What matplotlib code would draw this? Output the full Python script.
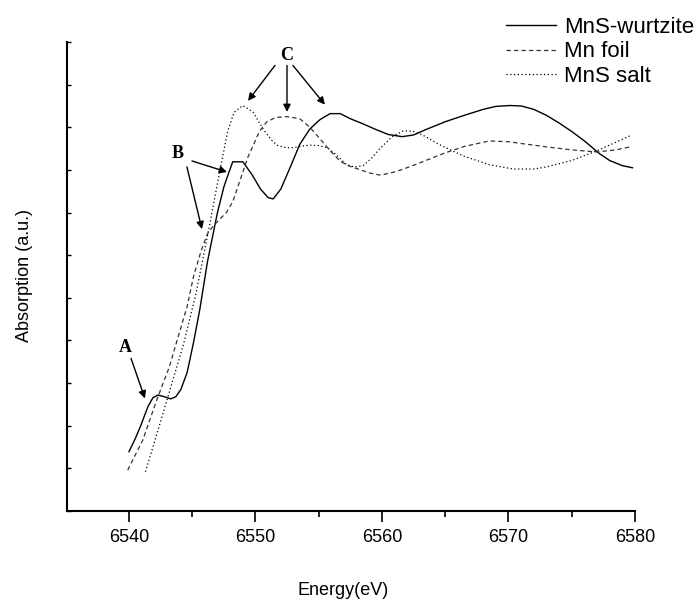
import matplotlib
matplotlib.use("Agg")
import matplotlib.pyplot as plt

plt.rcParams['font.family'] = ['Liberation Sans', 'DejaVu Sans']

# energies (eV) and absorption (a.u.)
wurtzite_e = [6540.0, 6540.5, 6540.9, 6541.5, 6541.9, 6542.3, 6542.8, 6543.3, 6543.7, 6544.1,
              6544.6, 6545.1, 6545.6, 6546.2, 6547.0, 6547.5, 6547.8, 6548.2, 6549.0, 6549.7,
              6550.4, 6551.0, 6551.4, 6552.0, 6552.8, 6553.5, 6554.3, 6555.1, 6555.9, 6556.7,
              6557.5, 6558.5, 6559.5, 6560.5, 6561.6, 6562.5, 6563.5, 6565.0, 6566.5, 6568.0,
              6569.0, 6570.1, 6571.0, 6572.0, 6573.0, 6574.0, 6575.0, 6576.0, 6577.2, 6578.0,
              6579.0, 6579.8]
wurtzite_a = [1.39, 1.70, 1.98, 2.45, 2.66, 2.72, 2.68, 2.63, 2.68, 2.85,
              3.25, 3.95, 4.73, 5.84, 7.01, 7.60, 7.86, 8.19, 8.19, 7.90,
              7.55, 7.35, 7.32, 7.55, 8.10, 8.60, 8.96, 9.18, 9.32, 9.32,
              9.20, 9.08, 8.95, 8.83, 8.78, 8.82, 8.95, 9.13, 9.28, 9.42,
              9.49, 9.51, 9.50, 9.42, 9.28, 9.10, 8.90, 8.68, 8.38, 8.22,
              8.10, 8.05]

foil_e = [6539.9, 6541.1, 6542.2, 6543.2, 6544.0, 6544.6, 6545.1, 6545.7, 6546.2, 6546.7,
          6547.2, 6547.7, 6548.2, 6548.6, 6549.0, 6549.4, 6549.8, 6550.3, 6550.9, 6551.6,
          6552.5, 6553.5, 6554.3, 6555.1, 6555.9, 6556.7, 6557.5, 6558.3, 6559.0, 6559.8,
          6560.6, 6561.5, 6562.6, 6563.8, 6565.0, 6566.5, 6568.5, 6570.0, 6571.5, 6573.0,
          6575.0, 6577.0, 6578.5, 6579.6]
foil_a = [0.96, 1.67, 2.61, 3.39, 4.20, 4.80, 5.50, 6.10, 6.50, 6.70,
          6.85, 7.00, 7.25, 7.60, 7.95, 8.30, 8.56, 8.90, 9.13, 9.23,
          9.25, 9.20, 9.00, 8.73, 8.45, 8.20, 8.08, 8.00, 7.93, 7.88,
          7.92, 8.00, 8.12, 8.26, 8.40, 8.55, 8.68, 8.66, 8.60, 8.54,
          8.47, 8.42, 8.47, 8.54]

salt_e = [6541.3, 6542.3, 6543.3, 6544.3, 6545.3, 6546.3, 6547.2, 6547.8, 6548.3, 6549.0,
          6549.8, 6550.6, 6551.2, 6551.7, 6552.4, 6553.0, 6553.7, 6554.3, 6555.0, 6555.7,
          6556.4, 6557.2, 6557.8, 6558.5, 6559.2, 6559.8, 6560.8, 6561.7, 6562.5, 6563.2,
          6564.5, 6566.4, 6568.5, 6570.4, 6572.0, 6573.0, 6575.0, 6577.0, 6578.5, 6579.6]
salt_a = [0.92, 1.90, 2.90, 3.90, 5.10, 6.60, 8.00, 8.90, 9.35, 9.51,
          9.36, 8.96, 8.72, 8.58, 8.52, 8.52, 8.56, 8.58, 8.57, 8.52,
          8.35, 8.12, 8.07, 8.10, 8.28, 8.49, 8.78, 8.92, 8.90, 8.82,
          8.60, 8.33, 8.12, 8.02, 8.02, 8.07, 8.22, 8.45, 8.65, 8.80]

x_ticks = [6540, 6550, 6560, 6570, 6580]
x_minor = [6545, 6555, 6565, 6575]

fig = plt.figure(figsize=(6.96, 6.01), dpi=100)
ax = fig.add_axes([67 / 696, 90 / 601, 568 / 696, 469 / 601])

ax.plot(wurtzite_e, wurtzite_a, color='black', lw=1.0, label='MnS-wurtzite')
ax.plot(foil_e, foil_a, color='#333333', lw=0.9, dashes=(3.5, 2.5), label='Mn foil')
ax.plot(salt_e, salt_a, color='black', lw=0.9, dashes=(1, 2), label='MnS salt')

ax.set_xlim(6535.1, 6580)
ax.set_ylim(0, 11)
ax.set_xticks(x_ticks)
ax.set_xticks(x_minor, minor=True)
ax.set_yticks(range(0, 12))
ax.set_yticklabels([])
ax.tick_params(axis='x', which='major', direction='out', length=8, width=1.2, labelsize=13, pad=5)
ax.tick_params(axis='x', which='minor', direction='out', length=4, width=1.2)
ax.tick_params(axis='y', which='major', direction='in', length=3, width=1.0)
for side in ['top', 'right']:
    ax.spines[side].set_visible(False)
for side in ['left', 'bottom']:
    ax.spines[side].set_linewidth(1.5)

ax.set_xlabel('Energy(eV)', fontsize=13)
ax.xaxis.set_label_coords(0.486, -0.151)
ax.set_ylabel('Absorption (a.u.)', fontsize=13)
ax.yaxis.set_label_coords(-0.059, 0.503)

ax.legend(loc='center left', bbox_to_anchor=(0.757, 0.979), frameon=False, fontsize=16,
          handlelength=2.25, handletextpad=0.36, labelspacing=0.17, borderaxespad=0)

arrow = dict(arrowstyle='-|>', color='black', lw=1.0, mutation_scale=11, shrinkA=0, shrinkB=0)
letter = dict(fontsize=13, fontweight='bold', family='Liberation Serif', ha='center', va='center')

ax.text(6539.7, 3.84, 'A', **letter)
ax.annotate('', xy=(6541.26, 2.64), xytext=(6540.16, 3.58), arrowprops=arrow)

ax.text(6543.87, 8.38, 'B', **letter)
ax.annotate('', xy=(6547.75, 7.95), xytext=(6544.98, 8.21), arrowprops=arrow)
ax.annotate('', xy=(6545.77, 6.61), xytext=(6544.58, 8.07), arrowprops=arrow)

ax.text(6552.49, 10.68, 'C', **letter)
ax.annotate('', xy=(6549.41, 9.62), xytext=(6551.54, 10.45), arrowprops=arrow)
ax.annotate('', xy=(6552.49, 9.36), xytext=(6552.49, 10.45), arrowprops=arrow)
ax.annotate('', xy=(6555.49, 9.53), xytext=(6552.96, 10.45), arrowprops=arrow)

fig.savefig('out.png', dpi=100)
